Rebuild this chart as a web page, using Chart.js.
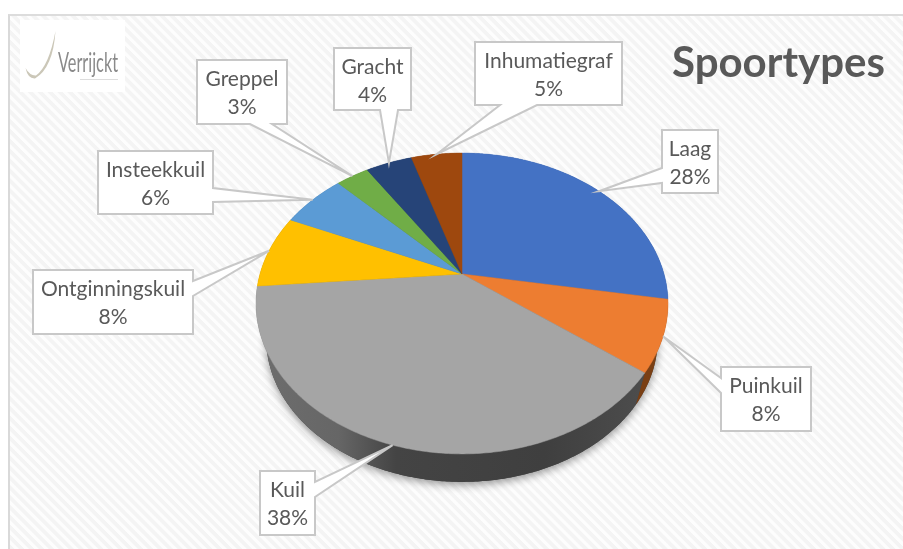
<!DOCTYPE html>
<html>
<head>
<meta charset="utf-8">
<title>Spoortypes</title>
<script src="https://cdn.jsdelivr.net/npm/chart.js@4/dist/chart.umd.min.js"></script>
<style>
html,body{margin:0;padding:0;background:#fff;overflow:hidden}
#panel{position:absolute;left:8px;top:14px;width:895px;height:535px;box-sizing:border-box;
border-left:2px solid #d9d9d9;border-top:2px solid #dcdcdc;
background:repeating-linear-gradient(45deg,#f4f4f4 0,#f4f4f4 3px,#fdfdfd 3.6px,#fdfdfd 6px,#f4f4f4 7px)}
#chart{position:absolute;left:0;top:0}
</style>
</head>
<body>
<div id="panel"></div>
<canvas id="chart" width="903" height="549"></canvas>
<script>
/* DATA */
const categories=["Laag","Puinkuil","Kuil","Ontginningskuil","Insteekkuil","Greppel","Gracht","Inhumatiegraf"]
const percentages=[27.7,7.6,38.4,7.9,6.1,3.1,4.4,4.8]

/* STYLE */
const sliceColors=["#4472c4","#ed7d31","#a5a5a5","#ffc000","#5b9bd5","#70ad47","#264478","#9e480e"]
const wallColors=["#2f4f88","#7a3f14",null,"#a07800","#3f6d96","#4e7a32","#1a3054","#6e320a"]

/* label boxes: x, y, w, h, then wedge base on the box edge */
const boxes=[
{x:662,y:130,w:56,h:63,side:"left",b0:168,b1:183},
{x:721,y:367,w:90,h:64,side:"left",b0:378,b1:393},
{x:260,y:471,w:55,h:64,side:"right",b0:482,b1:497},
{x:33,y:270,w:160,h:64,side:"right",b0:281,b1:296},
{x:98,y:151,w:115,h:63,side:"right",b0:188,b1:202},
{x:197,y:60,w:90,h:64,side:"bottom",b0:250,b1:272},
{x:334,y:48,w:77,h:62,side:"bottom",b0:380,b1:398},
{x:475,y:42,w:147,h:63,side:"bottom",b0:500,b1:537}
]

/* PIE SEEN IN PERSPECTIVE */
const tilt=0.716
const depth=0.196

function project(el,angle,scale,shift){
const u=Math.cos(angle),v=Math.sin(angle)
const d=1-depth*v
return{
x:el.x+scale*el.outerRadius*u/d,
y:el.y+shift+scale*el.outerRadius*tilt*v/d
}
}

function edgePoints(el,scale,shift){
const pts=[]
const n=Math.max(2,Math.ceil((el.endAngle-el.startAngle)/0.01))
for(let i=0;i<=n;i++){
pts.push(project(el,el.startAngle+(el.endAngle-el.startAngle)*i/n,scale,shift))
}
return pts
}

/* arcs draw themselves through the projection */
Chart.ArcElement.prototype.draw=function(ctx){
const pts=edgePoints(this,1,0)
ctx.save()
ctx.fillStyle=this.options.backgroundColor
ctx.strokeStyle=this.options.backgroundColor
ctx.lineWidth=0.5
ctx.beginPath()
ctx.moveTo(this.x,this.y)
pts.forEach(p=>ctx.lineTo(p.x,p.y))
ctx.closePath()
ctx.fill()
ctx.stroke()
ctx.restore()
}

/* SIDE WALL */
const wallPlugin={
id:"wall",
beforeDatasetsDraw(chart){
const ctx=chart.ctx
const arcs=chart.getDatasetMeta(0).data
const gray=ctx.createLinearGradient(256,0,668,0)
gray.addColorStop(0,"#6e6e6e")
gray.addColorStop(0.2,"#666666")
gray.addColorStop(0.34,"#444444")
gray.addColorStop(0.7,"#3f3f3f")
gray.addColorStop(1,"#505050")

ctx.save()
ctx.shadowColor="rgba(0,0,0,0.4)"
ctx.shadowBlur=9
ctx.shadowOffsetY=3
ctx.fillStyle="#444"
ctx.beginPath()
arcs.forEach(el=>edgePoints(el,0.95,37).forEach(p=>ctx.lineTo(p.x,p.y)))
ctx.closePath()
ctx.fill()
ctx.restore()

arcs.forEach((el,i)=>{
const top=edgePoints(el,1,0)
const bottom=edgePoints(el,0.95,37).reverse()
ctx.fillStyle=wallColors[i]||gray
ctx.beginPath()
top.concat(bottom).forEach(p=>ctx.lineTo(p.x,p.y))
ctx.closePath()
ctx.fill()
})
}
}

/* LABELS, TITLE, LOGO */
const labelPlugin={
id:"labels",
afterDraw(chart){
const ctx=chart.ctx
const arcs=chart.getDatasetMeta(0).data

arcs.forEach((el,i)=>{
const b=boxes[i]
const tip=project(el,(el.startAngle+el.endAngle)/2,1,0)
ctx.save()
ctx.fillStyle="#ffffff"
ctx.strokeStyle="#c8c8c8"
ctx.lineWidth=2
ctx.beginPath()
ctx.moveTo(b.x,b.y)
ctx.lineTo(b.x+b.w,b.y)
if(b.side=="right"){
ctx.lineTo(b.x+b.w,b.b0)
ctx.lineTo(tip.x,tip.y)
ctx.lineTo(b.x+b.w,b.b1)
}
ctx.lineTo(b.x+b.w,b.y+b.h)
if(b.side=="bottom"){
ctx.lineTo(b.b1,b.y+b.h)
ctx.lineTo(tip.x,tip.y)
ctx.lineTo(b.b0,b.y+b.h)
}
ctx.lineTo(b.x,b.y+b.h)
if(b.side=="left"){
ctx.lineTo(b.x,b.b1)
ctx.lineTo(tip.x,tip.y)
ctx.lineTo(b.x,b.b0)
}
ctx.closePath()
ctx.fill()
ctx.stroke()

ctx.fillStyle="#595959"
ctx.font="21px Lato"
ctx.textAlign="center"
ctx.textBaseline="middle"
ctx.fillText(categories[i],b.x+b.w/2,b.y+19)
ctx.fillText(Math.round(percentages[i])+"%",b.x+b.w/2,b.y+47)
ctx.restore()
})

ctx.save()
ctx.fillStyle="#595959"
ctx.font="bold 42px Lato"
ctx.textAlign="left"
ctx.textBaseline="middle"
ctx.fillText("Spoortypes",672,63)

ctx.fillStyle="#ffffff"
ctx.fillRect(20,20,105,72)
ctx.fillStyle="#cbc7b8"
ctx.beginPath()
ctx.moveTo(55.5,31)
ctx.quadraticCurveTo(53,68,35,78.5)
ctx.quadraticCurveTo(28,79,25.5,68)
ctx.quadraticCurveTo(30,76,36,75.5)
ctx.quadraticCurveTo(49,66,55.5,31)
ctx.fill()
ctx.fillStyle="#8a8a8a"
ctx.font="27px Lato"
ctx.textBaseline="alphabetic"
ctx.fillText("Verrijckt",58,72,60)
ctx.fillStyle="#dddddd"
ctx.fillRect(80,79,38,1)
ctx.restore()
}
}

/* PIE */
new Chart(document.getElementById("chart").getContext("2d"),{
type:"pie",
data:{
labels:categories,
datasets:[{data:percentages,backgroundColor:sliceColors,borderWidth:0}]
},
options:{
responsive:false,
animation:false,
radius:202,
layout:{padding:{left:21,bottom:1}},
plugins:{legend:{display:false},tooltip:{enabled:false}}
},
plugins:[wallPlugin,labelPlugin]
})
</script>
</body>
</html>
